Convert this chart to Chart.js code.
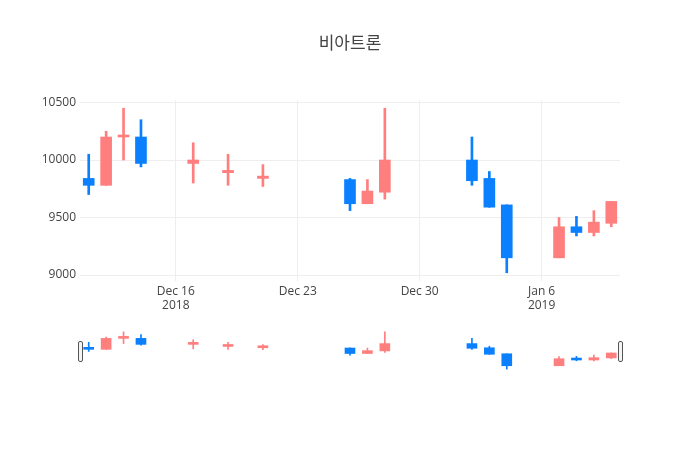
<!DOCTYPE html>
<html>
<head>
<meta charset="utf-8">
<script src="https://cdn.jsdelivr.net/npm/chart.js@4"></script>
<style>
  html, body { margin: 0; padding: 0; background: #fff; }
  #wrap { position: relative; width: 700px; height: 450px; }
  #main { position: absolute; left: 0; top: 0; }
  #slider { position: absolute; left: 0; top: 330px; }
</style>
</head>
<body>
<div id="wrap">
  <canvas id="main" width="700" height="450"></canvas>
  <canvas id="slider" width="700" height="41"></canvas>
</div>
<script>
// ---- data ----
const title = '비아트론';
const dates = ['2018-12-11','2018-12-12','2018-12-13','2018-12-14','2018-12-17','2018-12-19','2018-12-21',
               '2018-12-26','2018-12-27','2018-12-28','2019-01-02','2019-01-03','2019-01-04',
               '2019-01-07','2019-01-08','2019-01-09','2019-01-10'];
const openVals  = [9840, 9780, 10200, 10200, 9970, 9890, 9840, 9830, 9620, 9720, 10000, 9840, 9610, 9150, 9420, 9370, 9450];
const highVals  = [10050, 10250, 10450, 10350, 10150, 10050, 9960, 9840, 9830, 10450, 10200, 9900, 9610, 9500, 9510, 9560, 9640];
const lowVals   = [9700, 9780, 10000, 9940, 9800, 9780, 9770, 9560, 9620, 9660, 9780, 9590, 9020, 9150, 9340, 9340, 9420];
const closeVals = [9780, 10200, 10200, 9970, 10000, 9910, 9860, 9620, 9730, 10000, 9820, 9590, 9150, 9420, 9370, 9460, 9640];
const xTickDates  = ['2018-12-16', '2018-12-23', '2018-12-30', '2019-01-06'];
const xTickLabels = [['Dec 16', '2018'], ['Dec 23'], ['Dec 30'], ['Jan 6', '2019']];
const yTicks = [9000, 9500, 10000, 10500];

// ---- helpers ----
const DAY = 86400000;
const origin = Date.parse(xTickDates[0]);
const toX = d => (Date.parse(d) - origin) / DAY;
const xs = dates.map(toX);
const tickXs = xTickDates.map(toX);
const UP = '#ff7f7f', DOWN = '#0a80ff';
const colors = openVals.map((o, i) => closeVals[i] >= o ? UP : DOWN);
const xMin = Math.min(...xs) - 0.5, xMax = Math.max(...xs) + 0.5;
const dMin = Math.min(...lowVals), dMax = Math.max(...highVals);
const pad = (dMax - dMin) * 0.05;
const yMin = dMin - pad, yMax = dMax + pad;
const FONT = "'Open Sans', 'Noto Sans CJK KR', sans-serif";

function datasets(bodyW, wickW) {
  return [
    { label: 'body', data: xs.map((x, i) => ({ x, y: [openVals[i], closeVals[i]] })),
      backgroundColor: colors, barThickness: bodyW, minBarLength: 2, grouped: false, borderWidth: 0 },
    { label: 'wick', data: xs.map((x, i) => ({ x, y: [lowVals[i], highVals[i]] })),
      backgroundColor: colors, barThickness: wickW, grouped: false, borderWidth: 0 }
  ];
}

new Chart(document.getElementById('main'), {
  type: 'bar',
  data: { datasets: datasets(11, 2) },
  options: {
    responsive: false, animation: false,
    layout: { padding: 0 },
    plugins: {
      legend: { display: false }, tooltip: { enabled: false },
      title: { display: true, text: title, color: '#444',
               font: { family: FONT, size: 17, weight: 'normal' },
               padding: { top: 34, bottom: 45.6 } }
    },
    scales: {
      x: {
        type: 'linear', min: xMin, max: xMax, offset: false,
        afterBuildTicks: s => { s.ticks = tickXs.map(v => ({ value: v })); },
        afterFit: s => { s.height = 169; },
        ticks: { autoSkip: false, maxRotation: 0, padding: 3, color: '#444',
                 font: { family: FONT, size: 12 },
                 callback: v => { const i = tickXs.indexOf(v); return i >= 0 ? xTickLabels[i] : ''; } },
        grid: { color: '#eee', drawTicks: false, offset: false },
        border: { display: false }
      },
      y: {
        min: yMin, max: yMax, beginAtZero: false,
        afterBuildTicks: s => { s.ticks = yTicks.map(v => ({ value: v })); },
        afterFit: s => { s.width = 80; },
        ticks: { padding: 4, color: '#444', font: { family: FONT, size: 12 },
                 callback: v => String(v) },
        grid: { color: '#eee', drawTicks: false },
        border: { display: false }
      },
      yRight: {
        position: 'right', display: true, min: yMin, max: yMax,
        afterFit: s => { s.width = 80; },
        ticks: { display: false },
        grid: { display: false, drawTicks: false },
        border: { display: false }
      }
    }
  }
});

const handles = {
  id: 'handles',
  afterDraw(chart) {
    const { ctx, chartArea: a } = chart;
    const mid = (a.top + a.bottom) / 2, h = 20, w = 4;
    ctx.save();
    ctx.fillStyle = '#f4f4f4';
    ctx.strokeStyle = '#555';
    ctx.lineWidth = 1;
    [a.left, a.right].forEach(px => {
      const x0 = Math.round(px - w / 2) + 0.5, y0 = Math.round(mid - h / 2) + 0.5;
      ctx.beginPath();
      ctx.roundRect(x0, y0, w, h, 1.5);
      ctx.fill(); ctx.stroke();
    });
    ctx.restore();
  }
};

new Chart(document.getElementById('slider'), {
  type: 'bar',
  data: { datasets: datasets(10, 1) },
  options: {
    responsive: false, animation: false,
    layout: { padding: { left: 80, right: 80, top: 0, bottom: 0 } },
    plugins: { legend: { display: false }, tooltip: { enabled: false } },
    scales: {
      x: { type: 'linear', display: false, min: xMin, max: xMax, offset: false, grid: { offset: false } },
      y: { display: false, min: yMin, max: yMax, beginAtZero: false }
    }
  },
  plugins: [handles]
});
</script>
</body>
</html>
